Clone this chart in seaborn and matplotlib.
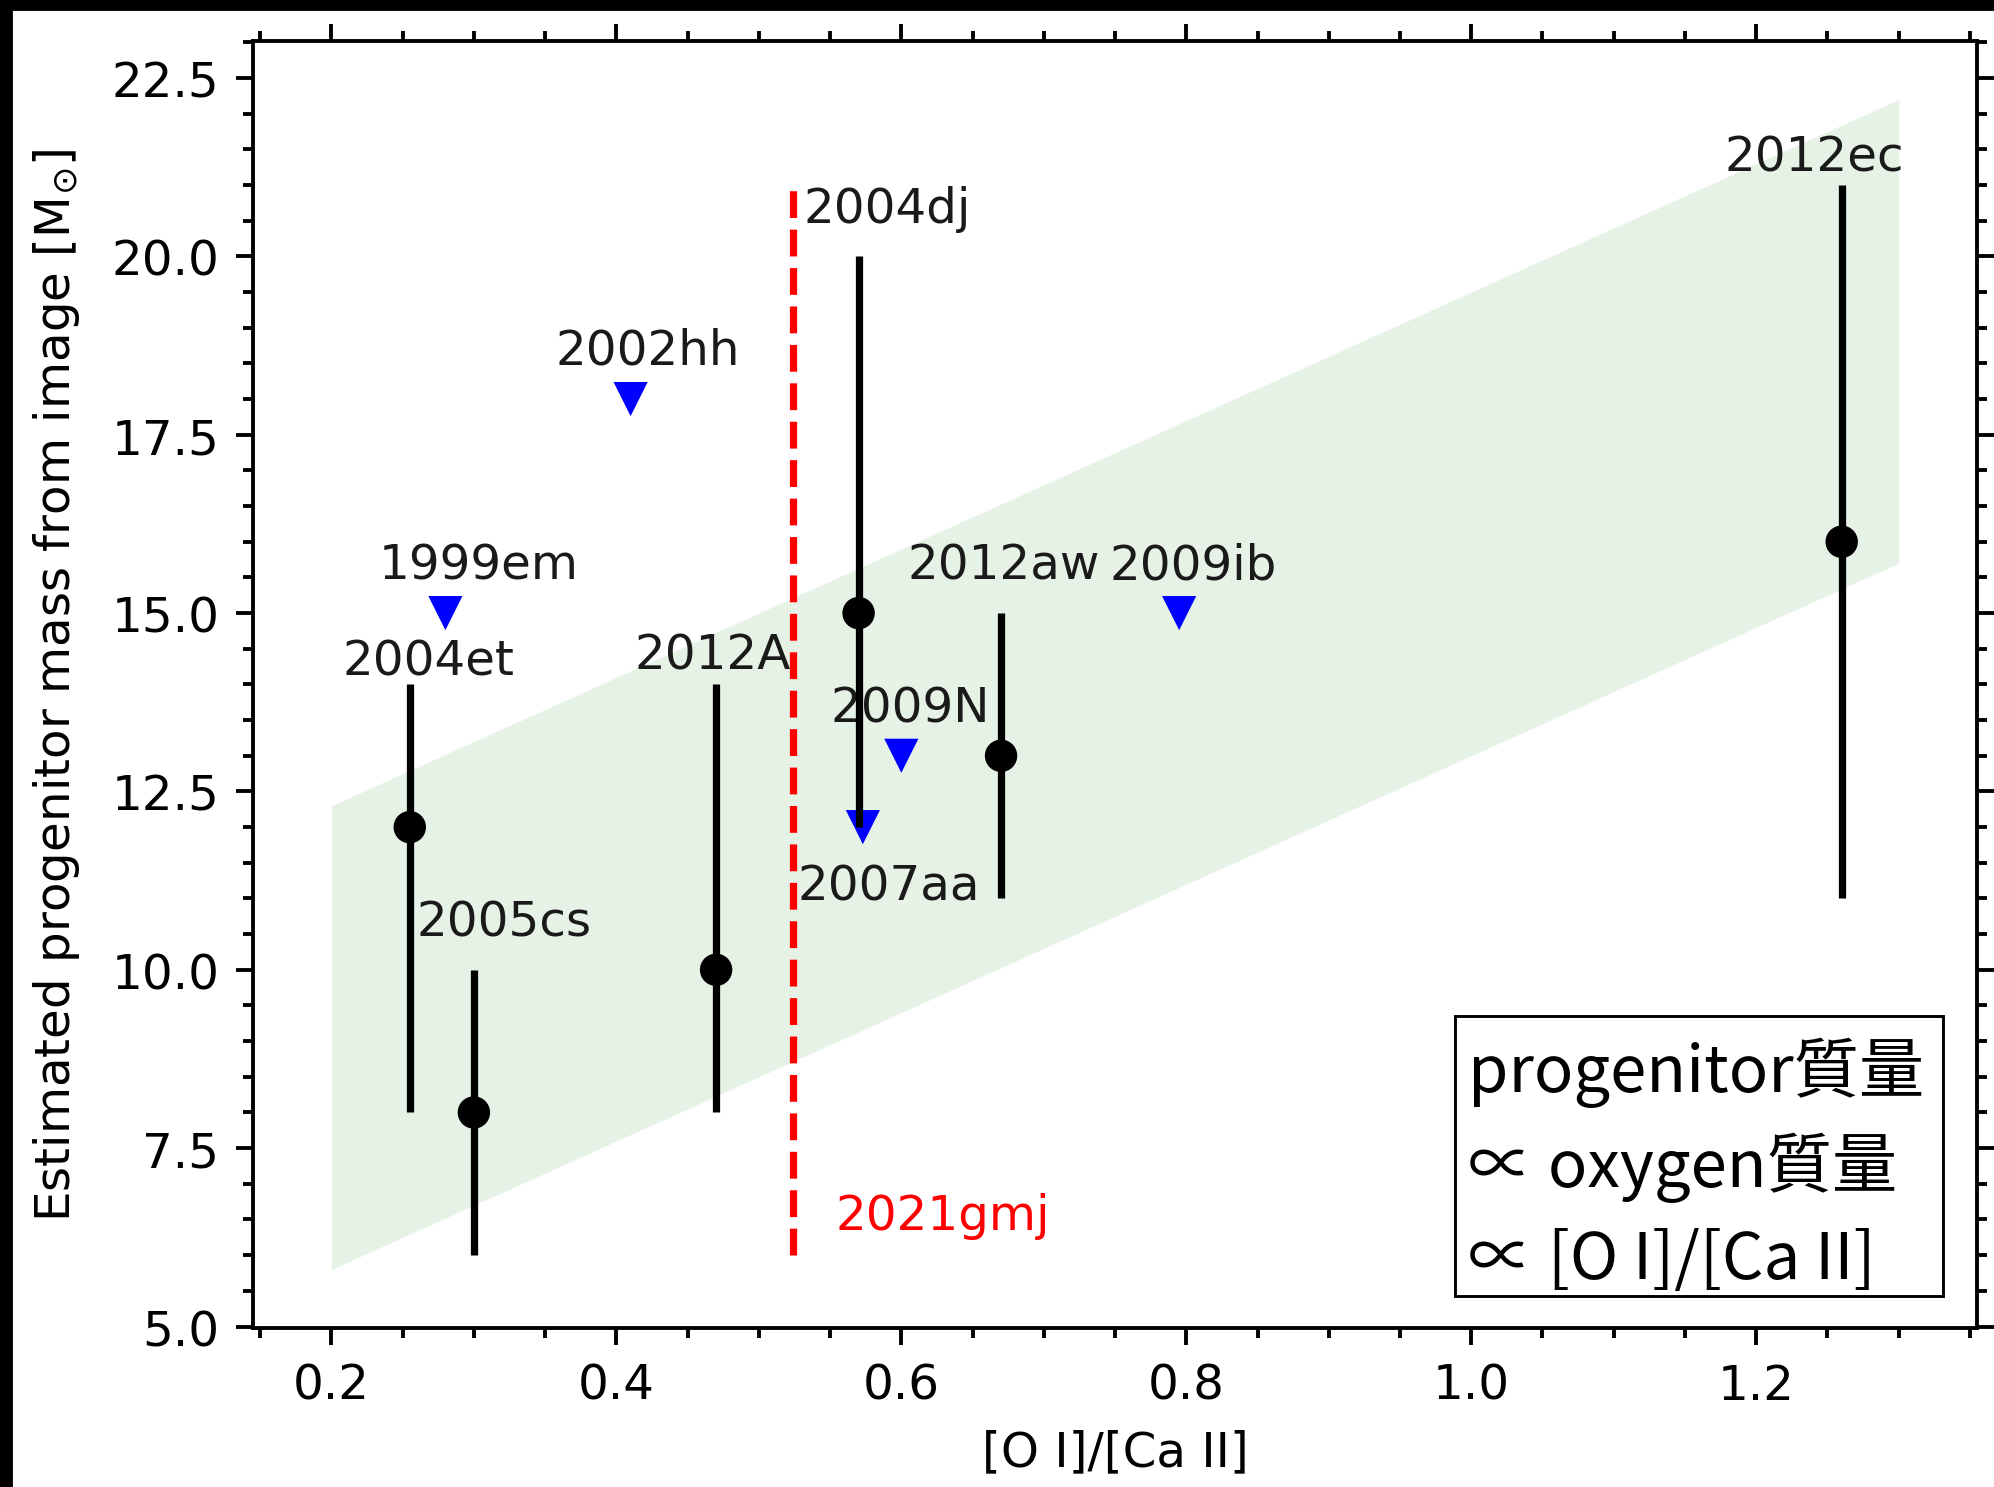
import seaborn as sns
import matplotlib.pyplot as plt
import pandas as pd
from matplotlib.patches import Rectangle
from matplotlib.ticker import MultipleLocator

# SNe with progenitor mass and error bar
det_names = ['2004et', '2005cs', '2012A', '2004dj', '2012aw', '2012ec']
det_ratio = [0.255, 0.30, 0.47, 0.57, 0.67, 1.26]
det_mass = [12, 8, 10, 15, 13, 16]
det_err_lo = [4, 2, 2, 3, 2, 5]
det_err_hi = [2, 2, 4, 5, 2, 5]
det_label_x = [0.208, 0.26, 0.413, 0.531, 0.604, 1.178]
det_label_y = [14.14, 10.48, 14.23, 20.48, 15.48, 21.2]

# SNe with only an upper limit
lim_names = ['1999em', '2002hh', '2009N', '2007aa', '2009ib']
lim_ratio = [0.28, 0.41, 0.60, 0.573, 0.795]
lim_mass = [15, 18, 13, 12, 15]
lim_label_x = [0.233, 0.357, 0.55, 0.527, 0.746]
lim_label_y = [15.48, 18.5, 13.48, 10.98, 15.48]

# relation band (endpoints)
band_x = [0.2, 1.3]
band_lo = [5.8, 15.7]
band_hi = [12.3, 22.2]

# 2021gmj
gmj_ratio = 0.524
gmj_mass = [6, 21]

det = pd.DataFrame({'ratio': det_ratio, 'mass': det_mass})
lim = pd.DataFrame({'ratio': lim_ratio, 'mass': lim_mass})

sns.set_style('ticks', {'axes.edgecolor': 'black', 'text.color': 'black',
                        'xtick.color': 'black', 'ytick.color': 'black',
                        'axes.labelcolor': 'black'})
plt.rcParams['font.family'] = ['DejaVu Sans']
plt.rcParams['xtick.direction'] = 'out'
plt.rcParams['ytick.direction'] = 'out'

DPI = 348
fig = plt.figure(figsize=(1994 / DPI, 1488 / DPI), dpi=DPI)
ax = fig.add_axes([0.1269, 0.1069, 0.8646, 0.8649])

ax.fill_between(band_x, band_lo, band_hi, color='green', alpha=0.1, lw=0)
ax.plot([gmj_ratio, gmj_ratio], gmj_mass, 'r--', lw=1.5)
ax.text(0.554, 6.37, '2021gmj', color='red', fontsize=10)

sns.scatterplot(data=lim, x='ratio', y='mass', marker='v', color='blue',
                s=50, edgecolor='none', ax=ax, zorder=3)
ax.errorbar(det_ratio, det_mass, yerr=[det_err_lo, det_err_hi], fmt='none',
            ecolor='black', elinewidth=1.5, capsize=0, zorder=4)
sns.scatterplot(data=det, x='ratio', y='mass', marker='o', color='black',
                s=45, edgecolor='none', ax=ax, zorder=5)

for name, x, y in zip(det_names, det_label_x, det_label_y):
    ax.text(x, y, name, fontsize=10, color='#1a1a1a')
for name, x, y in zip(lim_names, lim_label_x, lim_label_y):
    ax.text(x, y, name, fontsize=10, color='#1a1a1a')

ax.xaxis.set_minor_locator(MultipleLocator(0.05))
ax.yaxis.set_minor_locator(MultipleLocator(0.5))
ax.tick_params(which='both', top=True, right=True, width=0.8)
ax.tick_params(which='major', length=3.5, labelsize=10)
ax.tick_params(which='minor', length=2)
for sp in ax.spines.values():
    sp.set_linewidth(0.8)

ax.set_xlabel('[O I]/[Ca II]', fontsize=10)
ax.set_ylabel(r'Estimated progenitor mass from image [M$_{\odot}$]', fontsize=10,
              labelpad=6)

# note box
ax.add_patch(Rectangle((0.697, 0.0248), 0.283, 0.2173, transform=ax.transAxes,
                       fc='white', ec='black', lw=0.6, zorder=6))
ax.text(0.705, 0.027, 'progenitor質量\n∝ oxygen質量\n∝ [O I]/[Ca II]',
        transform=ax.transAxes, ha='left', va='bottom', fontsize=13.5,
        family=['Noto Sans CJK JP', 'DejaVu Sans'], linespacing=1.47,
        zorder=7)

# black border from screenshot crop
fig.patches.append(Rectangle((0, 1 - 9 / 1488), 1, 9 / 1488, transform=fig.transFigure,
                             color='black', zorder=10))
fig.patches.append(Rectangle((0, 0), 10 / 1994, 1, transform=fig.transFigure,
                             color='black', zorder=10))

fig.savefig('out.png', dpi=DPI)
